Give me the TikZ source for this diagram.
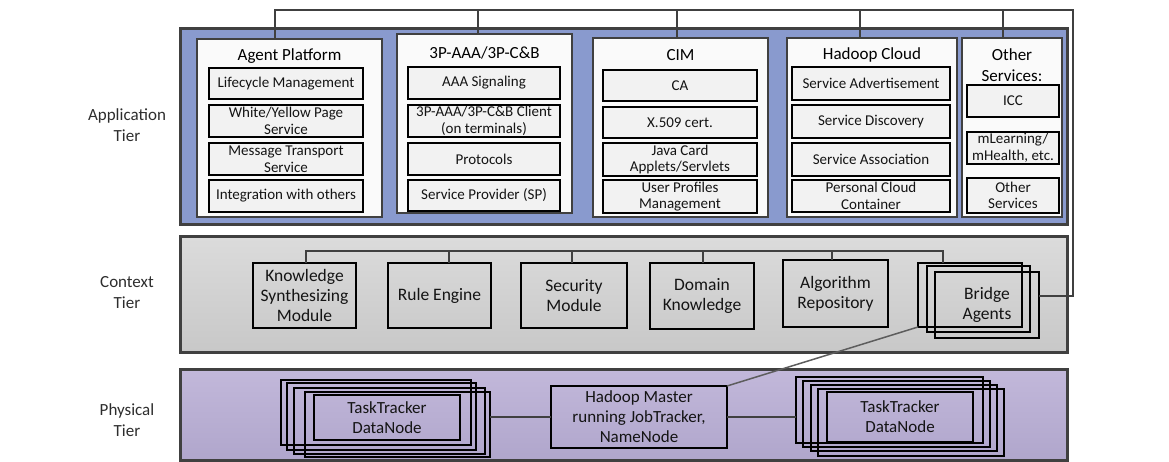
\documentclass[tikz,border=0pt]{standalone}
\usepackage{fontspec}
\setmainfont{Carlito}
\definecolor{appfill}{RGB}{137,154,206}
\definecolor{tierline}{RGB}{64,64,64}
\definecolor{colfill}{RGB}{250,250,250}
\definecolor{itemfill}{RGB}{242,242,242}
\definecolor{ctxtop}{RGB}{219,219,219}
\definecolor{ctxbot}{RGB}{200,200,200}
\definecolor{phytop}{RGB}{194,184,218}
\definecolor{phybot}{RGB}{176,166,204}
\definecolor{busline}{RGB}{64,64,64}
\definecolor{txtdark}{RGB}{20,20,20}
\definecolor{labelgray}{RGB}{45,45,45}
\newcommand\mkbox[7]{\node[#1, minimum width={#5-#3}, minimum height={#6-#4}] (#2) at ({(#3+#5)/2},{(#4+#6)/2}) {#7};}
\begin{document}
\begin{tikzpicture}[x=1pt,y=-1pt,
  every node/.style={inner sep=0pt, outer sep=0pt},
  tier/.style={draw=tierline, line width=3pt, rectangle},
  colbox/.style={draw=tierline, line width=2.6pt, fill=colfill, rectangle},
  item/.style={draw=black, line width=2.8pt, fill=itemfill, rectangle, align=center, text=txtdark, font=\fontsize{15}{16.5}\selectfont},
  module/.style={draw=black, line width=2.8pt, rectangle, align=center, text=txtdark, font=\fontsize{17.5}{20}\selectfont},
  stackbox/.style={draw=black, line width=2.6pt, rectangle, align=center, text=txtdark, font=\fontsize{17}{20}\selectfont},
  coltitle/.style={align=center, text=black, font=\fontsize{17}{21}\selectfont},
  tierlabel/.style={align=center, text=labelgray, font=\fontsize{17}{21}\selectfont},
  bus/.style={draw=busline, line width=2.4pt},
  link/.style={draw=busline, line width=2pt},
  diag/.style={draw=busline!85, line width=1.5pt}]
\useasboundingbox (0,0) rectangle (1169,462);
% tiers
\mkbox{tier, fill=appfill}{app}{180}{29}{1067}{225}{}
\mkbox{tier, top color=ctxtop, bottom color=ctxbot}{ctx}{180}{237}{1067}{352}{}
\mkbox{tier, top color=phytop, bottom color=phybot}{phy}{180}{369}{1067}{460}{}
% tier labels
\node[tierlabel] (lapp) at (127,125) {Application\\Tier};
\node[tierlabel] (lctx) at (127,293) {Context\\Tier};
\node[tierlabel] (lphy) at (127,420) {Physical\\Tier};
% application columns
\mkbox{colbox}{ap}{197}{39}{382}{217}{}
\mkbox{colbox}{tp}{397}{34}{572}{213}{}
\mkbox{colbox}{cim}{593}{38}{768}{217}{}
\mkbox{colbox}{hc}{787}{38}{957}{217}{}
\mkbox{colbox}{os}{962}{38}{1062}{217}{}
\node[coltitle] (apt) at (289.5,56) {Agent Platform};
\node[coltitle] (tpt) at (484.5,53) {3P-AAA/3P-C\&B};
\node[coltitle] (cimt) at (680.5,55) {CIM};
\node[coltitle] (hct) at (872,55) {Hadoop Cloud};
\node[coltitle] (ost) at (1012,65.5) {Other\\Services:};
% items
\mkbox{item}{ap1}{209}{68}{363}{99}{Lifecycle Management}
\mkbox{item}{ap2}{209}{105}{363}{137}{White/Yellow Page\\Service}
\mkbox{item}{ap3}{209}{143}{363}{175}{Message Transport\\Service}
\mkbox{item}{ap4}{209}{180}{363}{212}{Integration with others}
\mkbox{item}{tp1}{408}{67}{560}{99}{AAA Signaling}
\mkbox{item}{tp2}{408}{105}{560}{137}{3P-AAA/3P-C\&B Client\\(on terminals)}
\mkbox{item}{tp3}{408}{143}{560}{175}{Protocols}
\mkbox{item}{tp4}{408}{180}{560}{211}{Service Provider (SP)}
\mkbox{item}{cim1}{603}{70}{757}{101}{CA}
\mkbox{item}{cim2}{603}{107}{757}{138}{X.509 cert.}
\mkbox{item}{cim3}{603}{143}{757}{176}{Java Card\\Applets/Servlets}
\mkbox{item}{cim4}{603}{180}{757}{213}{User Profiles\\Management}
\mkbox{item}{hc1}{792}{67}{950}{100}{Service Advertisement}
\mkbox{item}{hc2}{792}{105}{950}{138}{Service Discovery}
\mkbox{item}{hc3}{792}{143}{950}{176}{Service Association}
\mkbox{item}{hc4}{792}{180}{950}{212}{Personal Cloud\\Container}
\mkbox{item}{os1}{967}{85}{1059}{117}{ICC}
\mkbox{item}{os2}{967}{132}{1059}{164}{mLearning/\\mHealth, etc.}
\mkbox{item}{os3}{967}{178}{1059}{213}{Other\\Services}
% context modules
\mkbox{module}{ks}{253}{263}{356}{328}{Knowledge\\Synthesizing\\Module}
\mkbox{module}{re}{388}{263}{491}{328}{Rule Engine}
\mkbox{module}{sm}{521}{263}{627}{328}{Security\\Module}
\mkbox{module}{dk}{650}{263}{754}{329}{Domain\\Knowledge}
\mkbox{module}{ar}{783}{260}{888}{327}{Algorithm\\Repository}
\mkbox{module}{bb}{918}{263}{1022}{327}{}
\mkbox{module}{bm}{927}{266}{1030}{332}{}
\mkbox{module}{bf}{935}{272}{1039}{338}{Bridge\\Agents}
% physical
\mkbox{stackbox}{hm}{551}{386}{727}{448}{Hadoop Master\\running JobTracker,\\NameNode}
\mkbox{stackbox}{l0}{281}{380}{471}{445}{}
\mkbox{stackbox}{l1}{287}{383}{476}{450}{}
\mkbox{stackbox}{l2}{294}{388}{485}{454}{}
\mkbox{stackbox}{l3}{305}{392}{490}{457}{}
\mkbox{stackbox}{lt}{314}{395}{460}{440}{TaskTracker\\DataNode}
\mkbox{stackbox}{r0}{796}{377}{983}{443}{}
\mkbox{stackbox}{r1}{803}{381}{990}{447}{}
\mkbox{stackbox}{r2}{811}{385}{997}{451}{}
\mkbox{stackbox}{r3}{818}{389}{1004}{456}{}
\mkbox{stackbox}{rt}{827}{392}{973}{442}{TaskTracker\\DataNode}
% top bus
\coordinate (t1) at (275,10);
\coordinate (t2) at (478,10);
\coordinate (t3) at (677,10);
\coordinate (t4) at (860,10);
\coordinate (t5) at (1003,10);
\coordinate (tr) at (1073,10);
\coordinate (rb) at (1073,296);
\draw[bus] (rb -| bf.east) -- (rb) -- (tr) -- (t1) -- (t1 |- ap.north);
\draw[bus] (t2) -- (t2 |- tp.north);
\draw[bus] (t3) -- (t3 |- cim.north);
\draw[bus] (t4) -- (t4 |- hc.north);
\draw[bus] (t5) -- (t5 |- os.north);
% context bus
\coordinate (c1) at (306,251);
\coordinate (c2) at (449,251);
\coordinate (c3) at (572,251);
\coordinate (c4) at (703,251);
\coordinate (c5) at (832,251);
\coordinate (c6) at (943,251);
\draw[bus] (c1 |- ks.north) -- (c1) -- (c6) -- (c6 |- bb.north);
\draw[bus] (c2) -- (c2 |- re.north);
\draw[bus] (c3) -- (c3 |- sm.north);
\draw[bus] (c4) -- (c4 |- dk.north);
\draw[bus] (c5) -- (c5 |- ar.north);
% physical links
\draw[link] (hm.west) -- (hm.west -| l3.east);
\draw[link] (hm.east) -- (hm.east -| r0.west);
\draw[diag] (hm.north east) -- (bb.south west);
\end{tikzpicture}
\end{document}
